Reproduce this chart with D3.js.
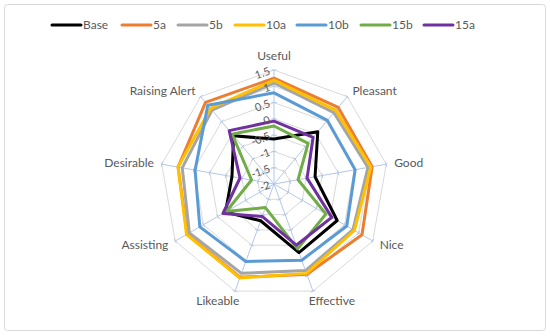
<!DOCTYPE html>
<html lang="en">

<head>
    <meta charset="UTF-8">
    <title>Radar</title>
    <script src="https://d3js.org/d3.v7.min.js"></script>
    <style>
        body {
            margin: 0;
            background: #fff;
        }

        svg text {
            font-family: Lato, "Open Sans", sans-serif;
            fill: #595959;
        }
    </style>
</head>

<body>
    <svg class="chart" width="550" height="336"></svg>

    <script>
        // categories (axes, clockwise from top)
        const categories = ["Useful", "Pleasant", "Good", "Nice", "Effective", "Likeable", "Assisting", "Desirable", "Raising Alert"];
        const seriesNames = ["Base", "5a", "5b", "10a", "10b", "15b", "15a"];
        const base = [-0.62, 0.09, -0.72, 0.24, 0.24, -0.80, -0.28, -0.69, -0.07];
        const s5a = [1.25, 1.07, 1.06, 1.12, 0.95, 1.05, 1.08, 0.99, 1.27];
        const s5b = [1.10, 0.86, 0.93, 0.80, 0.83, 0.92, 1.00, 0.86, 0.96];
        const s10a = [1.19, 0.95, 1.02, 0.85, 0.92, 1.07, 1.10, 0.99, 1.03];
        const s10b = [0.80, 0.55, 0.53, 0.58, 0.49, 0.53, 0.63, 0.46, 1.16];
        const s15b = [-0.22, -0.37, -1.25, -0.16, 0.12, -1.23, -0.31, -1.30, 0.00];
        const s15a = [-0.07, -0.13, -0.97, 0.05, 0.00, -0.94, -0.19, -0.94, 0.14];
        const tickValues = [-2, -1.5, -1, -0.5, 0, 0.5, 1, 1.5];

        const colors = {
            "Base": "#000000",
            "5a": "#ED7D31",
            "5b": "#A5A5A5",
            "10a": "#FFC000",
            "10b": "#5B9BD5",
            "15b": "#70AD47",
            "15a": "#7030A0"
        };
        const series = [
            { name: "Base", values: base },
            { name: "5a", values: s5a },
            { name: "5b", values: s5b },
            { name: "10a", values: s10a },
            { name: "10b", values: s10b },
            { name: "15b", values: s15b },
            { name: "15a", values: s15a }
        ];

        const svg = d3.select(".chart");

        // outer frame
        svg.append("rect")
            .attr("x", 4.5).attr("y", 4.5)
            .attr("width", 541).attr("height", 326)
            .attr("rx", 3)
            .attr("fill", "#fff")
            .attr("stroke", "#d9d9d9");

        const cx = 274, cy = 184, R = 114;
        const n = categories.length;

        // radial scale
        const rScale = d3.scaleLinear().domain([-2, 1.5]).range([0, R]);
        const angle = i => i * 2 * Math.PI / n;
        const px = (i, v) => cx + rScale(v) * Math.sin(angle(i));
        const py = (i, v) => cy - rScale(v) * Math.cos(angle(i));

        const g = svg.append("g");

        // rings
        tickValues.slice(1).forEach(t => {
            const pts = categories.map((c, i) => [px(i, t), py(i, t)]);
            g.append("polygon")
                .attr("points", pts.map(p => p.join(",")).join(" "))
                .attr("fill", "none")
                .attr("stroke", "#d9d9d9")
                .attr("stroke-width", 1);
        });

        // spokes with little tick marks
        categories.forEach((c, i) => {
            g.append("line")
                .attr("x1", cx).attr("y1", cy)
                .attr("x2", px(i, 1.5)).attr("y2", py(i, 1.5))
                .attr("stroke", "#b4c7e7")
                .attr("stroke-width", 1);
            const a = angle(i);
            tickValues.slice(1).forEach(t => {
                const x = px(i, t), y = py(i, t);
                const ox = Math.cos(a) * 2.5, oy = Math.sin(a) * 2.5;
                g.append("line")
                    .attr("x1", x - ox).attr("y1", y - oy)
                    .attr("x2", x + ox).attr("y2", y + oy)
                    .attr("stroke", "#b4c7e7")
                    .attr("stroke-width", 1);
            });
        });

        // category labels
        categories.forEach((c, i) => {
            const a = angle(i);
            const s = Math.sin(a), co = Math.cos(a);
            let x = cx + (R + 8) * s;
            const y = cy - (R + 8) * co;
            let anchor = "middle";
            if (s > 0.3) anchor = "start";
            if (s < -0.3) anchor = "end";
            let dy = 4;
            if (co > 0.9) dy = -2;
            if (co < -0.9) {
                dy = 6;
                x += s > 0 ? -7 : 7;
            }
            g.append("text")
                .attr("x", x).attr("y", y + dy)
                .attr("text-anchor", anchor)
                .style("font-size", "12px")
                .text(c);
        });

        // series lines
        const line = d3.line()
            .x((d, i) => px(i, d))
            .y((d, i) => py(i, d))
            .curve(d3.curveLinearClosed);

        series.forEach(s => {
            g.append("path")
                .attr("d", line(s.values))
                .attr("fill", "none")
                .attr("stroke", colors[s.name])
                .attr("stroke-width", 3)
                .attr("stroke-linejoin", "round");
        });

        // value axis labels (tilted, along first spoke)
        tickValues.forEach(t => {
            const y = py(0, t);
            g.append("text")
                .attr("transform", "translate(" + (cx - 3) + "," + (y + 4) + ") rotate(-20)")
                .attr("text-anchor", "end")
                .style("font-size", "11px")
                .text(t);
        });

        // legend
        const legendX = [52, 122, 178, 235, 297, 361, 424];
        seriesNames.forEach((name, i) => {
            const lg = svg.append("g")
                .attr("transform", "translate(" + legendX[i] + ",25)");
            lg.append("line")
                .attr("x1", 0).attr("x2", 29)
                .attr("stroke", colors[name])
                .attr("stroke-width", 3)
                .attr("stroke-linecap", "round");
            lg.append("text")
                .attr("x", 31).attr("y", 4)
                .style("font-size", "12px")
                .text(name);
        });
    </script>
</body>

</html>
